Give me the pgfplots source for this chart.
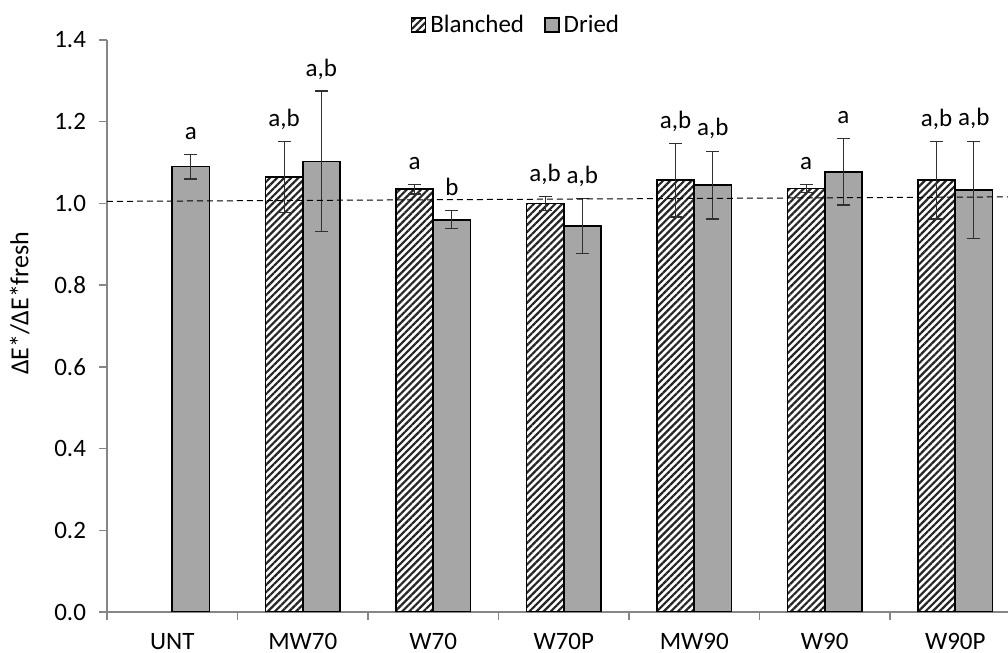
\documentclass[border=0pt]{standalone}
\usepackage{fontspec}
\setmainfont{Carlito}
\usepackage{pgfplots}
\pgfplotsset{compat=1.18}
\usetikzlibrary{patterns.meta}
\definecolor{driedgray}{HTML}{A6A6A6}
\definecolor{axisgray}{HTML}{868686}
\definecolor{errgray}{HTML}{303030}

% 1 px of the reference = 0.5pt
% x = category index -/+ half a bar width
\pgfplotstableread{
x       y      e
0.8575  1.065  0.087
1.8575  1.035  0.012
2.8575  1.000  0.017
3.8575  1.057  0.090
4.8575  1.037  0.010
5.8575  1.057  0.095
}\blanched

\pgfplotstableread{
x       y      e
0.1425  1.090  0.030
1.1425  1.103  0.172
2.1425  0.960  0.022
3.1425  0.945  0.067
4.1425  1.045  0.083
5.1425  1.077  0.081
6.1425  1.033  0.118
}\dried

\pgfplotstableread{
x       y      lab
0.1425  1.120  a
0.8575  1.152  a,b
1.1425  1.275  a,b
1.8575  1.047  a
2.1425  0.982  b
2.8575  1.017  a,b
3.1425  1.012  a,b
3.8575  1.146  a,b
4.1425  1.130  a,b
4.8575  1.047  a
5.1425  1.158  a
5.8575  1.152  a,b
6.1425  1.153  a,b
}\letters

\begin{document}
\begin{tikzpicture}
\begin{axis}[
    scale only axis,
    width=450.5pt, height=286pt,
    xmin=-0.5, xmax=6.404,
    ymin=0, ymax=1.4,
    axis x line*=bottom, axis y line*=left,
    axis line style={axisgray, line width=0.7pt},
    xtick={0,...,6},
    xticklabels={UNT,MW70,W70,W70P,MW90,W90,W90P},
    minor xtick={-0.5,0.5,...,5.5},
    major x tick style={draw=none},
    minor x tick style={axisgray, line width=0.7pt},
    ytick={0,0.2,0.4,0.6,0.8,1.0,1.2,1.4},
    ytick style={axisgray, line width=0.7pt},
    tick align=outside,
    major tick length=4pt, minor tick length=4pt,
    /pgf/number format/assume math mode=true,
    /pgf/number format/fixed,
    /pgf/number format/fixed zerofill,
    /pgf/number format/precision=1,
    tick label style={font=\fontsize{12.5}{14}\selectfont},
    yticklabel style={xshift=-3pt},
    xticklabel style={yshift=-3pt},
    ylabel={ΔE*/ΔE*fresh},
    ylabel style={at={(axis description cs:-0.097,0.54)}, anchor=center,
                  font=\fontsize{13}{15}\selectfont},
    legend style={at={(axis description cs:0.455,1.026)}, anchor=center,
                  draw=none, legend columns=-1, font=\fontsize{12.5}{14}\selectfont,
                  /tikz/every even column/.append style={column sep=8pt}},
    sqlegend/.style={legend image code/.code={\draw[##1] (0pt,-3.5pt) rectangle (7pt,3.5pt);}},
    errstyle/.style={error bars/.cd, y dir=both, y explicit,
                     error bar style={errgray, line width=0.6pt, solid},
                     error mark options={errgray, line width=0.6pt, mark size=3.2pt, rotate=90}},
  ]
  % Blanched - hatched
  \addplot[ybar, bar width=0.285, bar shift=0pt, draw=black, line width=0.8pt,
           pattern={Lines[angle=45,distance=2.5pt,line width=1.1pt]}, pattern color=black!85,
           sqlegend, errstyle]
    table[x=x, y=y, y error=e] {\blanched};
  \addlegendentry{Blanched}
  % Dried - gray
  \addplot[ybar, bar width=0.285, bar shift=0pt, draw=black, line width=0.8pt,
           fill=driedgray, sqlegend, errstyle]
    table[x=x, y=y, y error=e] {\dried};
  \addlegendentry{Dried}
  % reference line
  \addplot[forget plot, black, line width=0.5pt, dash pattern=on 3pt off 2pt]
    coordinates {(-0.5,1.005) (6.404,1.016)};
  % significance letters
  \addplot[forget plot, draw=none, mark=none, point meta=explicit symbolic,
           nodes near coords,
           nodes near coords style={anchor=base, yshift=7.5pt, font=\fontsize{12.5}{14}\selectfont}]
    table[x=x, y=y, meta=lab] {\letters};
\end{axis}
\pgfresetboundingbox
\path[use as bounding box] (-53.5pt,-20.5pt) rectangle (450.5pt,306pt);
\end{tikzpicture}
\end{document}
